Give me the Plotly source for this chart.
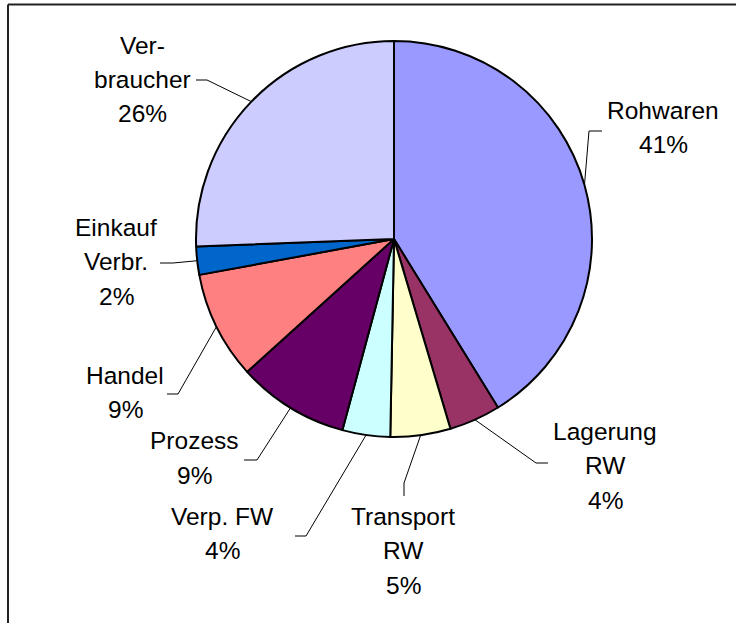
import math
import plotly.graph_objects as go

# ---- data ----
categories = ["Rohwaren", "Lagerung RW", "Transport RW", "Verp. FW",
              "Prozess", "Handel", "Einkauf Verbr.", "Verbraucher"]
values = [41.2, 4.2, 4.9, 3.9, 9.1, 8.8, 2.3, 25.6]
label_lines = [["Rohwaren"], ["Lagerung", "RW"], ["Transport", "RW"], ["Verp. FW"],
               ["Prozess"], ["Handel"], ["Einkauf", "Verbr."], ["Ver-", "braucher"]]
colors = ["#9999FF", "#993366", "#FFFFCC", "#CCFFFF",
          "#660066", "#FF8080", "#0066CC", "#CCCCFF"]

# ---- layout (pixel geometry) ----
W, H = 736, 623
CX, CY, R = 394, 239, 198
# label block: centre x, y of first line centre
label_pos = [(663, 110), (605, 431), (403, 516), (222, 516),
             (194, 441), (125, 375), (116, 227), (142, 45)]
LINE_H = 34.5
# leader: tick end point, elbow point (the line then runs to the slice edge)
leader_pts = [((602, 131), (589, 131)), ((548, 463), (536, 463)),
              ((404, 496), (404, 483)), ((295, 536), (306, 536)),
              ((244, 460), (257, 460)), ((167, 394), (178, 394)),
              ((160, 263), (173, 263)), ((196, 80), (207, 80))]
FONT = dict(family="Liberation Sans, Arial, Helvetica, sans-serif", size=24.5, color="#000000")


def px(x):
    return x / W


def py(y):
    return 1 - y / H


fig = go.Figure(go.Pie(
    labels=categories, values=values, sort=False, direction="clockwise",
    rotation=0, textinfo="none", hoverinfo="label+percent",
    marker=dict(colors=colors, line=dict(color="#000000", width=2)),
    domain=dict(x=[px(CX - R), px(CX + R)], y=[py(CY + R), py(CY - R)]),
    showlegend=False,
))

total = sum(values)
annotations = []
shapes = []
cum = 0.0
for i, v in enumerate(values):
    frac_mid = (cum + v / 2) / total
    cum += v
    th = 2 * math.pi * frac_mid
    ex, ey = CX + R * math.sin(th), CY - R * math.cos(th)
    pct = f"{round(100 * v / total):.0f}%"
    lines = label_lines[i] + [pct]
    lx, ly = label_pos[i]
    for k, t in enumerate(lines):
        annotations.append(dict(
            x=px(lx), y=py(ly + k * LINE_H), xref="paper", yref="paper",
            text=t, showarrow=False, xanchor="center", yanchor="middle", font=FONT))
    (tx, ty), (bx, by) = leader_pts[i]
    shapes.append(dict(
        type="path", xref="paper", yref="paper",
        path=f"M {px(tx)},{py(ty)} L {px(bx)},{py(by)} L {px(ex)},{py(ey)}",
        line=dict(color="#000000", width=1)))

# outer frame (top and left visible)
shapes.append(dict(type="line", xref="paper", yref="paper",
                   x0=px(8), y0=py(4.5), x1=1, y1=py(4.5),
                   line=dict(color="#222222", width=2)))
shapes.append(dict(type="line", xref="paper", yref="paper",
                   x0=px(8), y0=py(4.5), x1=px(8), y1=0,
                   line=dict(color="#222222", width=2)))

fig.update_layout(
    width=W, height=H, margin=dict(l=0, r=0, t=0, b=0),
    paper_bgcolor="#FFFFFF", plot_bgcolor="#FFFFFF",
    annotations=annotations, shapes=shapes,
)

fig.write_html("out.html", config={"displayModeBar": False},
               post_script="document.body.style.margin='0px';document.body.style.overflow='hidden';")
